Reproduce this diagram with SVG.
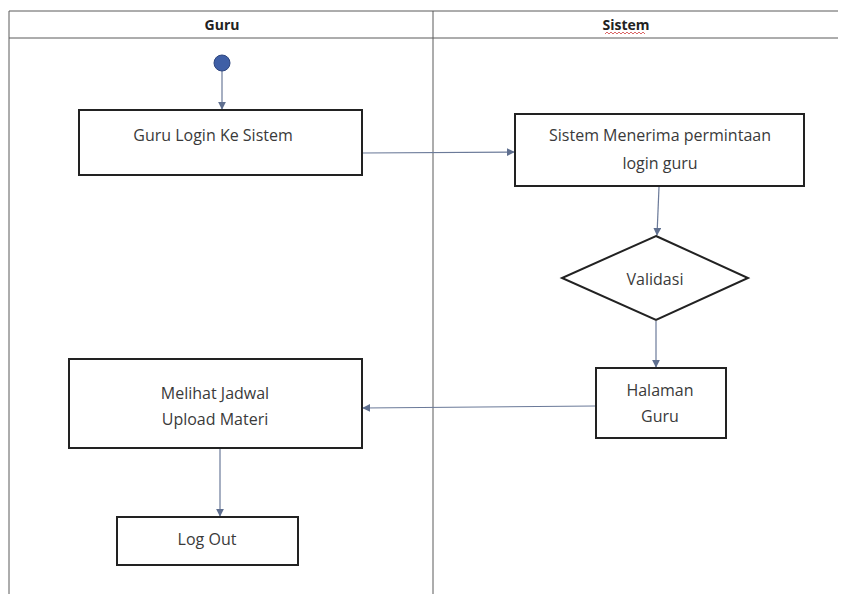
<svg xmlns="http://www.w3.org/2000/svg" width="848" height="594" viewBox="0 0 848 594">
<style>
.lane{stroke:#5a5a5a;stroke-width:1;fill:none}
.box{fill:#fff;stroke:#222;stroke-width:2}
.t{font-family:"Open Sans","Liberation Sans",sans-serif;font-size:16px;fill:#3a3a3a;text-anchor:middle}
.h{font-family:"Open Sans","Liberation Sans",sans-serif;font-size:14px;font-weight:bold;fill:#222;text-anchor:middle}
.c{stroke:#6b7a99;stroke-width:1.2;fill:none;marker-end:url(#ah)}
</style>
<defs>
<marker id="ah" viewBox="0 0 10 10" refX="9" refY="5" markerWidth="8" markerHeight="8" markerUnits="userSpaceOnUse" orient="auto">
<path d="M0,0 L10,5 L0,10 z" fill="#5f6f8f"/>
</marker>
</defs>
<rect width="848" height="594" fill="#fff"/>
<g id="lanes">
<line class="lane" x1="9" y1="11" x2="838" y2="11"/>
<line class="lane" x1="9" y1="38" x2="838" y2="38"/>
<line class="lane" x1="9" y1="11" x2="9" y2="594"/>
<line class="lane" x1="433" y1="11" x2="433" y2="594"/>
<text class="h" x="222" y="30">Guru</text>
<text class="h" x="626" y="30">Sistem</text>
<path d="M605,34 l2,-2 l2,2 l2,-2 l2,2 l2,-2 l2,2 l2,-2 l2,2 l2,-2 l2,2 l2,-2 l2,2 l2,-2 l2,2 l2,-2 l2,2 l2,-2 l2,2 l2,-2 l2,2" fill="none" stroke="#d04040" stroke-width="0.8"/>
</g>
<g id="connectors">
<line class="c" x1="222" y1="71" x2="222" y2="109"/>
<line class="c" x1="362" y1="153" x2="514" y2="152"/>
<line class="c" x1="659" y1="187" x2="657" y2="235"/>
<line class="c" x1="656" y1="321" x2="656" y2="367"/>
<line class="c" x1="595" y1="406" x2="363" y2="408"/>
<line class="c" x1="220" y1="449" x2="220" y2="516"/>
</g>
<g id="start">
<circle cx="222" cy="63" r="8" fill="#3f5fa6" stroke="#2e4680" stroke-width="1"/>
</g>
<g id="login">
<rect class="box" x="79" y="110" width="283" height="65"/>
<text class="t" x="213" y="141">Guru Login Ke Sistem</text>
</g>
<g id="terima">
<rect class="box" x="515" y="114" width="289" height="72"/>
<text class="t" x="660" y="141">Sistem Menerima permintaan</text>
<text class="t" x="660" y="169">login guru</text>
</g>
<g id="validasi">
<polygon points="656,236 748,278 656,320 562,278" fill="#fff" stroke="#222" stroke-width="2"/>
<text class="t" x="655" y="285">Validasi</text>
</g>
<g id="halaman">
<rect class="box" x="596" y="368" width="130" height="70"/>
<text class="t" x="660" y="396">Halaman</text>
<text class="t" x="660" y="422">Guru</text>
</g>
<g id="melihat">
<rect class="box" x="69" y="359" width="293" height="89"/>
<text class="t" x="215" y="399">Melihat Jadwal</text>
<text class="t" x="215" y="425">Upload Materi</text>
</g>
<g id="logout">
<rect class="box" x="117" y="517" width="181" height="48"/>
<text class="t" x="207" y="545">Log Out</text>
</g>
</svg>
